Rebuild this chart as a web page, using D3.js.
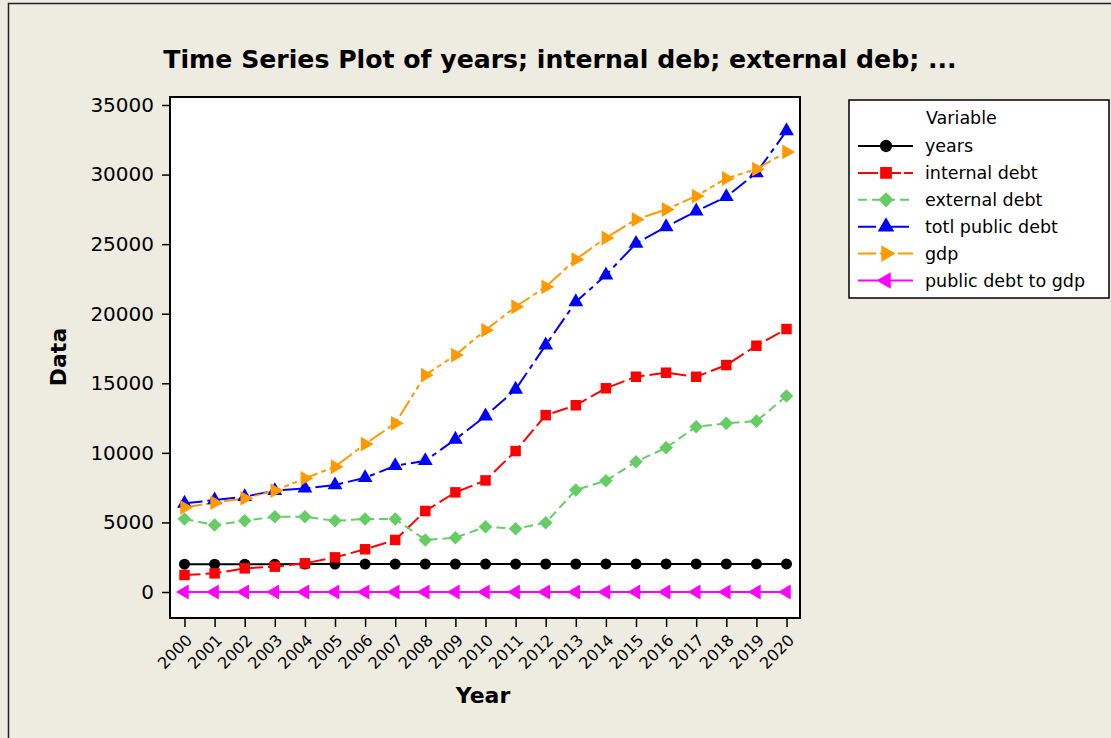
<!DOCTYPE html>
<html>
<head>
<meta charset="utf-8">
<script src="https://cdn.jsdelivr.net/npm/d3@7"></script>
<style>
  html, body { margin: 0; padding: 0; background: #EEEBE1; }
  svg { display: block; }
  text { font-family: "DejaVu Sans", Verdana, sans-serif; fill: #000; }
</style>
</head>
<body>
<svg id="chart" width="1111" height="738"></svg>
<script>
// ---- Data ----
const years = [2000, 2001, 2002, 2003, 2004, 2005, 2006, 2007, 2008, 2009, 2010,
               2011, 2012, 2013, 2014, 2015, 2016, 2017, 2018, 2019, 2020];
const yearsSeries = [2000, 2001, 2002, 2003, 2004, 2005, 2006, 2007, 2008, 2009, 2010,
                     2011, 2012, 2013, 2014, 2015, 2016, 2017, 2018, 2019, 2020];
const internalDebt = [1220, 1340, 1700, 1820, 2060, 2490, 3070, 3740, 5820, 7160, 8020,
                      10130, 12710, 13420, 14640, 15470, 15760, 15470, 16310, 17700, 18900];
const externalDebt = [5240, 4810, 5120, 5410, 5410, 5120, 5240, 5240, 3740, 3900, 4690,
                      4550, 4980, 7330, 8000, 9360, 10370, 11880, 12120, 12280, 14080];
const totalPublicDebt = [6370, 6610, 6850, 7280, 7450, 7690, 8210, 9070, 9430, 10970, 12640,
                         14560, 17740, 20850, 22770, 25050, 26240, 27370, 28400, 30120, 33140];
const gdp = [6080, 6420, 6730, 7280, 8170, 9000, 10630, 12120, 15590, 17030, 18820,
             20500, 21930, 23900, 25450, 26770, 27490, 28450, 29720, 30390, 31630];
const publicDebtToGdp = [1.05, 1.03, 1.02, 0.99, 0.91, 0.85, 0.77, 0.75, 0.60, 0.64, 0.67,
                         0.71, 0.81, 0.87, 0.89, 0.94, 0.95, 0.96, 0.96, 0.99, 1.05];
const yTicks = [0, 5000, 10000, 15000, 20000, 25000, 30000, 35000];
const seriesNames = ["years", "internal debt", "external debt", "totl public debt", "gdp", "public debt to gdp"];

const titleText = "Time Series Plot of years; internal deb; external deb; ...";

// ---- Styles ----
const series = [
  { name: seriesNames[0], values: yearsSeries,     color: "#000000", dash: null,             symbol: d3.symbolCircle,   size: 95,  rot: 0 },
  { name: seriesNames[1], values: internalDebt,    color: "#FF0000", dash: "16,5",           symbol: d3.symbolSquare,   size: 110, rot: 0 },
  { name: seriesNames[2], values: externalDebt,    color: "#66CC66", dash: "9,5",            symbol: d3.symbolSquare,   size: 92,  rot: 45 },
  { name: seriesNames[3], values: totalPublicDebt, color: "#0000FF", dash: "18,5,5,5",       symbol: d3.symbolTriangle, size: 95,  rot: 0 },
  { name: seriesNames[4], values: gdp,             color: "#FF9900", dash: "18,4,5,4,5,4",   symbol: d3.symbolTriangle, size: 95,  rot: 90 },
  { name: seriesNames[5], values: publicDebtToGdp, color: "#FF00FF", dash: null,             symbol: d3.symbolTriangle, size: 95,  rot: -90 }
];

const svg = d3.select("#chart");

// outer frame
svg.append("rect").attr("x", 8.5).attr("y", 3.5).attr("width", 1300).attr("height", 1000)
  .attr("fill", "#EEEBE1").attr("stroke", "#222").attr("stroke-width", 1.5);

// plot area
const plot = { left: 170, top: 97, right: 800, bottom: 618 };
const x = d3.scaleLinear().domain([2000, 2020]).range([184.5, 786.5]);
const y = d3.scaleLinear().domain([0, 35000]).range([592, 105]);

svg.append("rect").attr("x", plot.left).attr("y", plot.top)
  .attr("width", plot.right - plot.left).attr("height", plot.bottom - plot.top)
  .attr("fill", "#fff").attr("stroke", "#000").attr("stroke-width", 2);

// title
const title = svg.append("text").attr("x", 560).attr("y", 68).attr("text-anchor", "middle")
  .attr("font-weight", "bold").attr("font-size", 24).text(titleText);
{
  const w = title.node().getComputedTextLength();
  title.attr("font-size", 24 * 794 / w);
}

// y axis
const yAxis = svg.append("g").attr("transform", `translate(${plot.left},0)`)
  .call(d3.axisLeft(y).tickValues(yTicks).tickSize(8).tickPadding(8).tickFormat(d3.format("d")));
yAxis.select(".domain").remove();
yAxis.selectAll(".tick line").attr("stroke", "#000").attr("stroke-width", 1.5);
yAxis.selectAll(".tick text").attr("font-size", 20).attr("font-family", "DejaVu Sans").attr("fill", "#000");

// x axis
const xAxis = svg.append("g").attr("transform", `translate(0,${plot.bottom})`)
  .call(d3.axisBottom(x).tickValues(years).tickSize(9).tickFormat(d3.format("d")));
xAxis.select(".domain").remove();
xAxis.selectAll(".tick line").attr("stroke", "#000").attr("stroke-width", 1.5);
xAxis.selectAll(".tick text")
  .attr("font-size", 16).attr("font-family", "DejaVu Sans").attr("fill", "#000")
  .attr("text-anchor", "end")
  .attr("dy", null).attr("y", 0)
  .attr("transform", "translate(5,20) rotate(-45)")
  .attr("dominant-baseline", "middle");

// axis titles
svg.append("text").attr("x", 483).attr("y", 703).attr("text-anchor", "middle")
  .attr("font-weight", "bold").attr("font-size", 22).text("Year");
svg.append("text").attr("transform", "translate(66,357) rotate(-90)").attr("text-anchor", "middle")
  .attr("font-weight", "bold").attr("font-size", 22).text("Data");

// series
const line = d3.line().x((d, i) => x(years[i])).y(d => y(d));
const gSeries = svg.append("g");
series.forEach(s => {
  gSeries.append("path").datum(s.values).attr("d", line)
    .attr("fill", "none").attr("stroke", s.color).attr("stroke-width", 2)
    .attr("stroke-dasharray", s.dash);
});
series.forEach(s => {
  const sym = d3.symbol().type(s.symbol).size(s.size);
  gSeries.append("g").selectAll("path").data(s.values).join("path")
    .attr("d", sym)
    .attr("transform", (d, i) => `translate(${x(years[i])},${y(d)}) rotate(${s.rot})`)
    .attr("fill", s.color);
});

// legend
const lg = svg.append("g");
lg.append("rect").attr("x", 849).attr("y", 100).attr("width", 260).attr("height", 198)
  .attr("fill", "#fff").attr("stroke", "#000").attr("stroke-width", 1.5);
lg.append("text").attr("x", 926).attr("y", 124).attr("font-size", 17.5).text("Variable");
series.forEach((s, i) => {
  const cy = 146 + i * 26.9;
  lg.append("line").attr("x1", 858).attr("x2", 913).attr("y1", cy).attr("y2", cy)
    .attr("stroke", s.color).attr("stroke-width", 2).attr("stroke-dasharray", s.dash ? (i === 1 ? "20,3" : s.dash) : null);
  lg.append("path").attr("d", d3.symbol().type(s.symbol).size(s.size * 1.25)())
    .attr("transform", `translate(886,${cy}) rotate(${s.rot})`).attr("fill", s.color);
  lg.append("text").attr("x", 925).attr("y", cy).attr("dy", "0.35em").attr("font-size", 17.5).text(s.name);
});
</script>
</body>
</html>
